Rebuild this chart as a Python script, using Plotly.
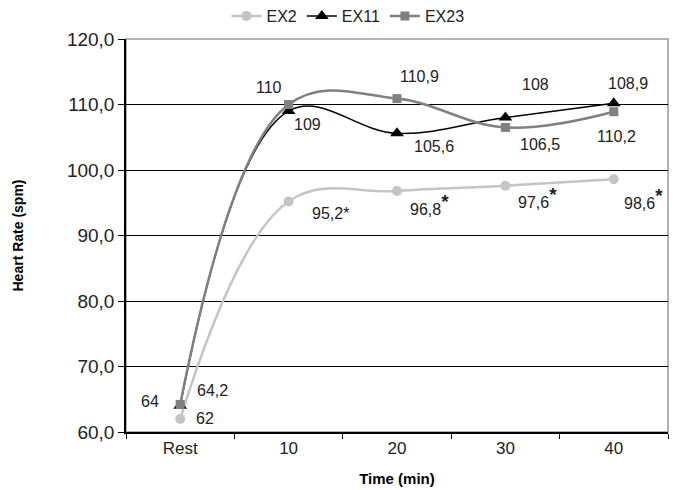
import plotly.graph_objects as go

categories = ["Rest", "10", "20", "30", "40"]
ex2 = [62, 95.2, 96.8, 97.6, 98.6]
ex11 = [64, 109, 105.6, 108, 110.2]
ex23 = [64.2, 110, 110.9, 106.5, 108.9]

star = "<sup><span style='font-size:19px'><b>*</b></span></sup>"
ex2_labels = ["62", "95,2*", "96,8" + star, "97,6" + star, "98,6" + star]
ex11_labels = ["64", "109", "105,6", "108", "108,9"]
ex23_labels = ["64,2", "110", "110,9", "106,5", "110,2"]

ex2_shift = [(25, 0), (42, -12), (32, -14), (32, -12), (30, -19)]
ex11_shift = [(-30, 4), (19, -13), (37, -13), (30, 33), (14, 20)]
ex23_shift = [(32, 14), (-20, 17), (22, 22), (35, -17), (3, -25)]

font = "Liberation Sans, Arial, sans-serif"

fig = go.Figure()
fig.add_trace(go.Scatter(x=categories, y=ex2, name="EX2", mode="lines+markers",
                         line=dict(color="#c4c4c4", width=2.5, shape="spline", smoothing=1.1),
                         marker=dict(symbol="circle", size=10, color="#c4c4c4")))
fig.add_trace(go.Scatter(x=categories, y=ex11, name="EX11", mode="lines+markers",
                         line=dict(color="#000000", width=1.5, shape="spline", smoothing=1.1),
                         marker=dict(symbol="triangle-up", size=12, color="#000000")))
fig.add_trace(go.Scatter(x=categories, y=ex23, name="EX23", mode="lines+markers",
                         line=dict(color="#808080", width=2.5, shape="spline", smoothing=1.1),
                         marker=dict(symbol="square", size=9, color="#808080")))

annotations = []
for vals, labels, shifts in [(ex2, ex2_labels, ex2_shift), (ex11, ex11_labels, ex11_shift),
                             (ex23, ex23_labels, ex23_shift)]:
    for i, (v, t, (dx, dy)) in enumerate(zip(vals, labels, shifts)):
        annotations.append(dict(x=i, y=v, xref="x", yref="y", text=t, showarrow=False,
                                xshift=dx, yshift=dy,
                                font=dict(family=font, size=16, color="#222222")))

fig.update_layout(
    width=680, height=490,
    margin=dict(l=118, r=20, t=31, b=66, autoexpand=False),
    paper_bgcolor="white", plot_bgcolor="white",
    separators=",.",
    font=dict(family=font, color="#222222"),
    annotations=annotations,
    showlegend=True,
    legend=dict(orientation="h", x=0.5, xanchor="center", xref="container",
                y=1 - 8 / 490, yanchor="middle", yref="container",
                font=dict(family=font, size=16, color="#222222"),
                bgcolor="rgba(0,0,0,0)"),
    shapes=[dict(type="rect", xref="paper", yref="paper", x0=0, y0=0, x1=1, y1=1,
                 line=dict(color="#9a9a9a", width=1.5), layer="below")],
)
fig.update_xaxes(type="category", range=[-0.5, 4.5], showline=True, linecolor="#000000",
                 linewidth=1.5, ticks="outside", tickson="boundaries", ticklen=5,
                 tickcolor="#000000", showgrid=False, automargin=False,
                 tickfont=dict(family=font, size=17, color="#222222"),
                 title=dict(text="<b>Time (min)</b>", font=dict(family=font, size=15, color="#000000"),
                            standoff=16))
fig.update_yaxes(range=[60, 120], dtick=10, tickformat=".1f", showline=True, linecolor="#000000",
                 linewidth=1.5, ticks="outside", ticklen=6, tickcolor="#000000",
                 showgrid=True, gridcolor="#000000", gridwidth=1, zeroline=False, automargin=False,
                 tickfont=dict(family=font, size=19, color="#222222"),
                 title=dict(text="<b>Heart Rate (spm)</b>", font=dict(family=font, size=14, color="#000000"),
                            standoff=40))

fig.write_html("out.html")
